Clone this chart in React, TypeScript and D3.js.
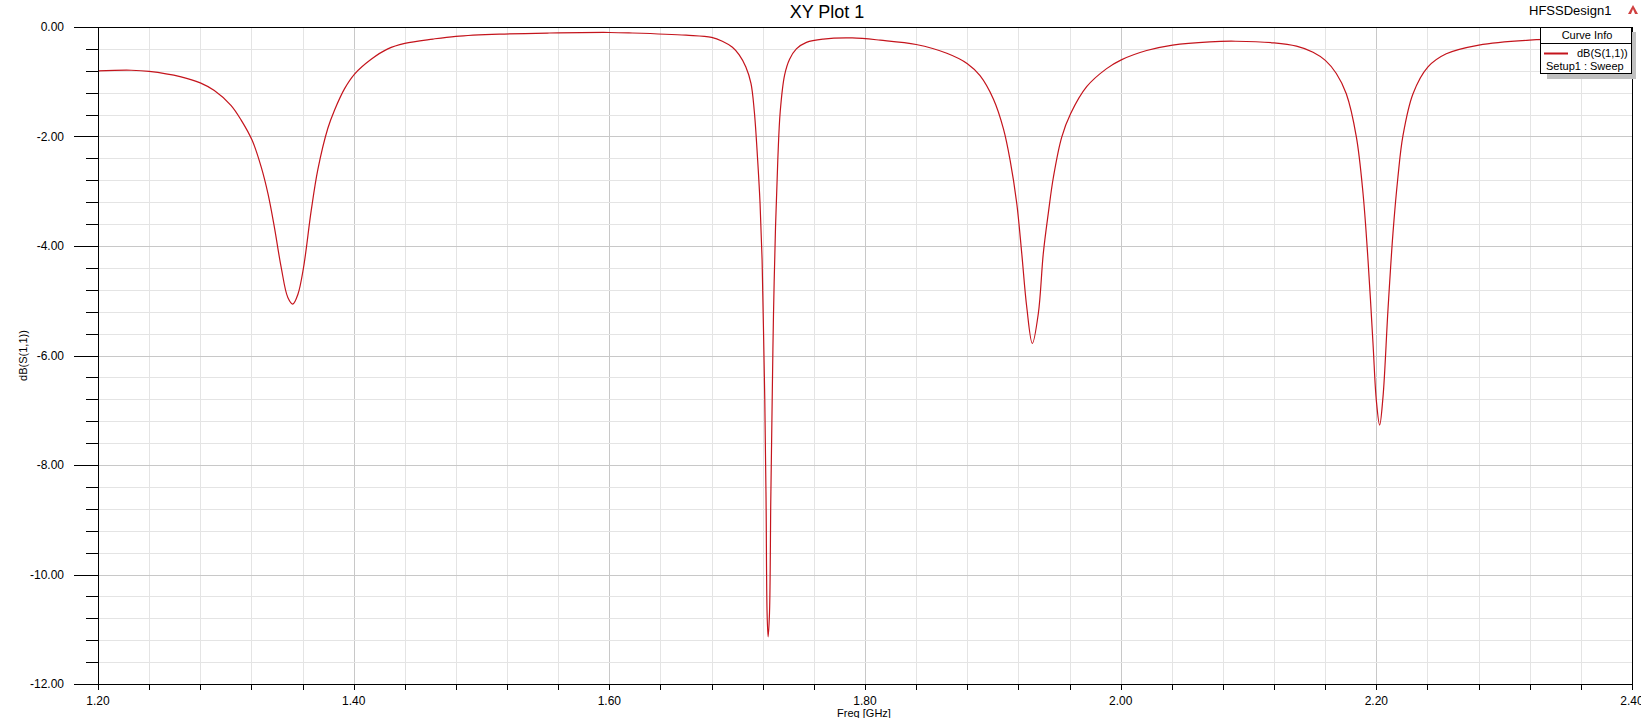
import React from "react";
import * as d3 from "d3";

const freqGHz: number[] = [
  1.2, 1.226, 1.24, 1.265, 1.28, 1.291, 1.304, 1.312, 1.3206, 1.3277, 1.333, 1.338, 1.3433, 1.3485,
  1.3524, 1.3564, 1.3608, 1.3668, 1.372, 1.3798, 1.385, 1.3928, 1.4007, 1.4137, 1.4267, 1.44, 1.462,
  1.48, 1.514, 1.553, 1.6, 1.618, 1.66, 1.68, 1.6884, 1.6963, 1.7016, 1.7068, 1.7108, 1.7134, 1.716,
  1.7179, 1.7195, 1.7205, 1.7216, 1.7226, 1.7234, 1.7242, 1.7253, 1.7263, 1.7274, 1.7284, 1.73,
  1.7318, 1.7337, 1.7371, 1.741, 1.7463, 1.7542, 1.7673, 1.79, 1.8119, 1.84, 1.864, 1.8801, 1.89,
  1.9005, 1.9083, 1.9135, 1.9187, 1.9226, 1.9265, 1.9309, 1.9356, 1.9395, 1.9434, 1.9474, 1.9539,
  1.9609, 1.9734, 1.989, 2.0005, 2.0203, 2.0406, 2.0698, 2.09, 2.12, 2.1375, 2.1505, 2.1601, 2.1687,
  2.1765, 2.1844, 2.1896, 2.1935, 2.1974, 2.2, 2.2026, 2.2052, 2.2091, 2.213, 2.2169, 2.2208, 2.2287,
  2.2404, 2.2547, 2.2802, 2.3198, 2.36, 2.4,
];

const s11dB: number[] = [
  -0.8, -0.79, -0.81, -0.91, -1.02, -1.16, -1.43, -1.7, -2.07, -2.56, -3.05, -3.66, -4.39, -4.94,
  -5.06, -4.88, -4.39, -3.35, -2.6, -1.85, -1.52, -1.13, -0.86, -0.59, -0.4, -0.3, -0.22,
  -0.17, -0.13, -0.11, -0.1, -0.11, -0.15, -0.19, -0.26, -0.37, -0.51, -0.73, -1.03, -1.54, -2.42,
  -3.22, -4.25, -5.42, -6.81, -8.64, -10.7, -11.14, -10.7, -8.64, -6.81, -5.27, -3.66,
  -2.42, -1.54, -0.88, -0.59, -0.4, -0.28, -0.22, -0.2, -0.24, -0.32, -0.48, -0.67, -0.89,
  -1.32, -1.86, -2.43, -3.22, -4.13, -5.11, -5.78, -5.23, -4.13, -3.4, -2.74, -2.01,
  -1.58, -1.09, -0.76, -0.6, -0.43, -0.33, -0.27, -0.26, -0.29, -0.35, -0.46, -0.61, -0.85,
  -1.22, -2.01, -3.04, -4.26, -5.78, -6.82, -7.27, -6.76, -5.17, -3.77, -2.74, -1.99, -1.22,
  -0.73, -0.49, -0.33, -0.24, -0.22, -0.21,
];

const xTickLabels: string[] = ["1.20", "1.40", "1.60", "1.80", "2.00", "2.20", "2.40"];
const yTickLabels: string[] = ["0.00", "-2.00", "-4.00", "-6.00", "-8.00", "-10.00", "-12.00"];

const title = "XY Plot 1";
const designName = "HFSSDesign1";
const xTitle = "Freq [GHz]";
const yTitle = "dB(S(1,1))";
const legendTitle = "Curve Info";
const seriesName = "dB(S(1,1))";
const seriesSub = "Setup1 : Sweep";

const W = 1641;
const H = 718;
const L = 98;
const R = 1632;
const T = 27;
const B = 684;
const FONT = "'Liberation Sans', Arial, sans-serif";
const LINE = "#c4141c";

export default function App() {
  const x = d3.scaleLinear().domain([1.2, 2.4]).range([L, R]);
  const y = d3.scaleLinear().domain([-12, 0]).range([B, T]);

  const xMinor = d3.range(0, 31).map((i) => 1.2 + i * 0.04);
  const yMinor = d3.range(0, 31).map((i) => -i * 0.4);
  const xMajor = xTickLabels.map(Number);
  const yMajor = yTickLabels.map(Number);
  const isMajorX = (v: number) => xMajor.some((m) => Math.abs(m - v) < 1e-6);
  const isMajorY = (v: number) => yMajor.some((m) => Math.abs(m - v) < 1e-6);

  const pts: [number, number][] = freqGHz.map((f, i) => [f, s11dB[i]]);
  const line = d3
    .line<[number, number]>()
    .x((d) => x(d[0]))
    .y((d) => y(d[1]))
    .curve(d3.curveCatmullRom.alpha(0.5));

  return (
    <svg
      width={W}
      height={H}
      style={{ position: "absolute", left: 0, top: 0, background: "#fff" }}
      fontFamily={FONT}
    >
      <rect x={0} y={0} width={W} height={H} fill="#fff" />
      {xMinor.map((v, i) =>
        i === 0 || i === xMinor.length - 1 ? null : (
          <line
            key={"gx" + i}
            x1={Math.round(x(v)) + 0.5}
            x2={Math.round(x(v)) + 0.5}
            y1={T}
            y2={B}
            stroke={isMajorX(v) ? "#c8c8c8" : "#e4e4e4"}
            strokeWidth={1}
          />
        )
      )}
      {yMinor.map((v, i) =>
        i === 0 || i === yMinor.length - 1 ? null : (
          <line
            key={"gy" + i}
            x1={L}
            x2={R}
            y1={Math.round(y(v)) + 0.5}
            y2={Math.round(y(v)) + 0.5}
            stroke={isMajorY(v) ? "#c8c8c8" : "#e4e4e4"}
            strokeWidth={1}
          />
        )
      )}
      <path d={line(pts) || ""} fill="none" stroke={LINE} strokeWidth={1.2} />
      <line x1={74} x2={R + 0.5} y1={T + 0.5} y2={T + 0.5} stroke="#000" />
      <line x1={74} x2={R + 0.5} y1={B + 0.5} y2={B + 0.5} stroke="#000" />
      <line x1={L + 0.5} x2={L + 0.5} y1={T} y2={B + 5} stroke="#000" />
      <line x1={R + 0.5} x2={R + 0.5} y1={T} y2={B + 5} stroke="#000" />
      {yMinor.map((v, i) => (
        <line
          key={"ty" + i}
          x1={isMajorY(v) ? 74 : 86}
          x2={L}
          y1={Math.round(y(v)) + 0.5}
          y2={Math.round(y(v)) + 0.5}
          stroke="#000"
        />
      ))}
      {yMajor.map((v, i) => (
        <text key={"ly" + i} x={64} y={y(v) + 4} fontSize={12} textAnchor="end" fill="#000">
          {yTickLabels[i]}
        </text>
      ))}
      {xMinor.map((v, i) => (
        <line
          key={"tx" + i}
          x1={Math.round(x(v)) + 0.5}
          x2={Math.round(x(v)) + 0.5}
          y1={B}
          y2={B + 6}
          stroke="#000"
        />
      ))}
      {xMajor.map((v, i) => (
        <text key={"lx" + i} x={x(v)} y={705} fontSize={12} textAnchor="middle" fill="#000">
          {xTickLabels[i]}
        </text>
      ))}
      <text x={827} y={18} fontSize={18} textAnchor="middle" fill="#000">
        {title}
      </text>
      <text x={1529} y={15} fontSize={13} fill="#000">
        {designName}
      </text>
      <path d="M1628,14 L1633,5 L1638,14 Z" fill="#d04040" />
      <path d="M1631,14 L1633,9 L1635,14 Z" fill="#fff" />
      <text x={864} y={717} fontSize={11} textAnchor="middle" fill="#000">
        {xTitle}
      </text>
      <text
        transform={`translate(27,${(T + B) / 2}) rotate(-90)`}
        fontSize={11}
        textAnchor="middle"
        fill="#000"
      >
        {yTitle}
      </text>
      <rect x={1547} y={32} width={89} height={47} fill="#c0c0c0" />
      <rect x={1540.5} y={27.5} width={91} height={46} fill="#fff" stroke="#000" />
      <line x1={1540} x2={1632} y1={43.5} y2={43.5} stroke="#000" />
      <text x={1587} y={39} fontSize={11} textAnchor="middle" fill="#000">
        {legendTitle}
      </text>
      <line x1={1544} x2={1568} y1={53.5} y2={53.5} stroke={LINE} strokeWidth={2} />
      <text x={1577} y={57} fontSize={11} fill="#000">
        {seriesName}
      </text>
      <text x={1546} y={70} fontSize={11} fill="#000">
        {seriesSub}
      </text>
    </svg>
  );
}
